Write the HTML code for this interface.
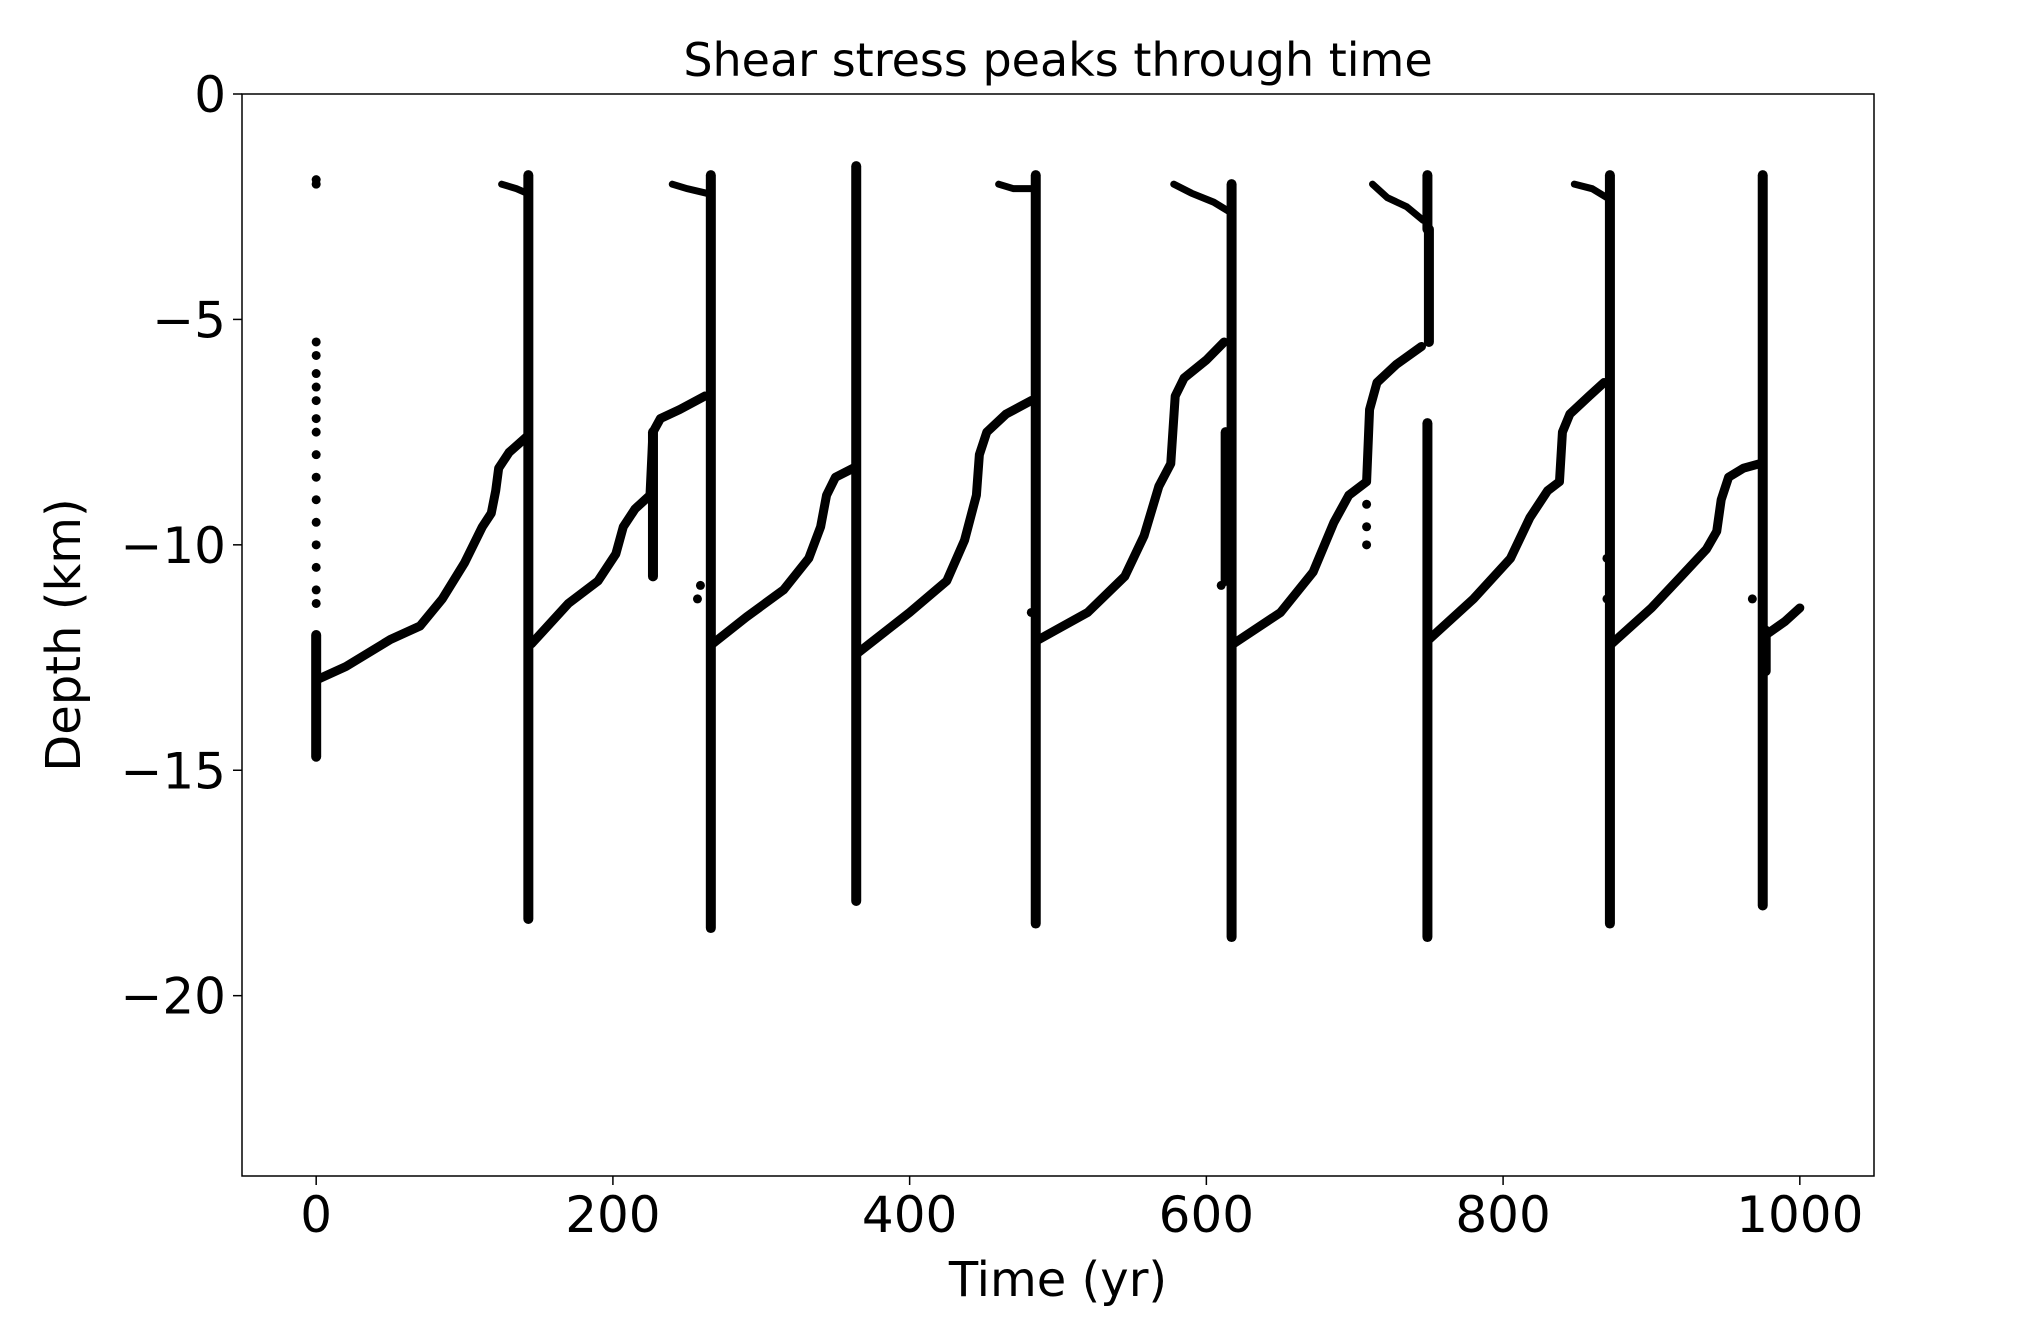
<!DOCTYPE html>
<html><head><meta charset="utf-8"><style>
html,body{margin:0;padding:0;background:#fff;}
svg{display:block;font-family:"DejaVu Sans","Liberation Sans",sans-serif;}
</style></head><body>
<svg id="chart" width="2042" height="1320" viewBox="0 0 2042 1320" xmlns="http://www.w3.org/2000/svg">
<rect width="2042" height="1320" fill="#fff"/>
<text x="1058" y="76" font-size="46" text-anchor="middle">Shear stress peaks through time</text>
<g id="marks"></g>
<rect x="242" y="94" width="1632" height="1082" fill="none" stroke="#000" stroke-width="1.5"/>
<g id="axes"></g>
<text x="1058" y="1296" font-size="48" text-anchor="middle">Time (yr)</text>
<text transform="translate(80,635) rotate(-90)" font-size="48" text-anchor="middle">Depth (km)</text>
</svg>
<script>
const xTicks = [0,200,400,600,800,1000];
const yTicks = [0,-5,-10,-15,-20];
const yTickLabels = ["0","\u22125","\u221210","\u221215","\u221220"];
// ramp curves (time yr, depth km)
const ramp1 = [[0,-13],[20,-12.7],[50,-12.1],[70,-11.8],[85,-11.2],[100,-10.4],[112,-9.6],[118,-9.3],[121,-8.8],[123,-8.3],[130,-7.95],[142,-7.6]];
const ramp2 = [[145,-12.2],[170,-11.3],[190,-10.8],[202,-10.2],[207,-9.6],[215,-9.2],[225,-8.9],[227,-7.5],[232,-7.2],[245,-7.0],[262,-6.7]];
const ramp3 = [[267,-12.2],[290,-11.6],[315,-11],[332,-10.3],[340,-9.6],[344,-8.9],[350,-8.5],[362,-8.3]];
const ramp4 = [[365,-12.4],[400,-11.5],[425,-10.8],[437,-9.9],[445,-8.9],[447,-8.0],[452,-7.5],[465,-7.1],[482,-6.8]];
const ramp5 = [[487,-12.1],[520,-11.5],[545,-10.7],[558,-9.8],[568,-8.7],[576,-8.2],[579,-6.7],[585,-6.3],[600,-5.9],[612,-5.5]];
const ramp6 = [[618,-12.2],[650,-11.5],[672,-10.6],[686,-9.5],[696,-8.9],[708,-8.6],[710,-7.0],[715,-6.4],[728,-6.0],[745,-5.6]];
const ramp7 = [[750,-12.1],[780,-11.2],[805,-10.3],[818,-9.4],[830,-8.8],[838,-8.6],[840,-7.5],[845,-7.1],[858,-6.7],[868,-6.4]];
const ramp8 = [[873,-12.2],[900,-11.4],[920,-10.7],[937,-10.1],[944,-9.7],[947,-9.0],[952,-8.5],[962,-8.3],[973,-8.2]];
const ramp9 = [[977,-12.0],[990,-11.7],[1000,-11.4]];
const ramps = [ramp1,ramp2,ramp3,ramp4,ramp5,ramp6,ramp7,ramp8,ramp9];
// rupture lines: [time, top depth, bottom depth]
const ruptures = [[0,-12,-14.7],[143,-1.8,-18.3],[227,-7.5,-10.7],[266,-1.8,-18.5],[364,-1.6,-17.9],[485,-1.8,-18.4],[617,-2.0,-18.7],[613,-7.5,-10.8],[749,-1.8,-3.0],[749,-7.3,-18.7],[750,-3,-5.5],[872,-1.8,-18.4],[975,-1.8,-18.0],[977,-11.9,-12.8]];
// near-surface arrival trails
const trail1 = [[125,-2.0],[135,-2.1],[142,-2.2]];
const trail2 = [[240,-2.0],[250,-2.1],[263,-2.2]];
const trail3 = [[460,-2.0],[470,-2.1],[482,-2.1]];
const trail4 = [[578,-2.0],[590,-2.2],[605,-2.4],[615,-2.6]];
const trail5 = [[712,-2.0],[722,-2.3],[735,-2.5],[746,-2.8]];
const trail6 = [[848,-2.0],[860,-2.1],[870,-2.3]];
const trails = [trail1,trail2,trail3,trail4,trail5,trail6];
// isolated dots
const dots = [[0,-1.9],[0,-2.0],[0,-5.5],[0,-6.5],[0,-7.2],[0,-9],[0,-10.5],[0,-11.3],[143,-10.4],[143,-11.1],[257,-11.2],[259,-10.9],[482,-11.5],[485,-7.3],[485,-8.6],[485,-10.5],[485,-11.5],[610,-10.9],[613,-10.6],[708,-9.1],[708,-9.6],[708,-10],[872,-8.9],[870,-10.3],[870,-11.2],[968,-11.2]];
const dotsCol0 = [-5.8,-6.2,-6.8,-7.5,-8,-8.5,-9.5,-10,-11];

const X0=242,X1=1874,Y0=94,Y1=1176, XMIN=-50, XMAX=1050, YMIN=-24, YMAX=0;
function sx(t){return X0+(t-XMIN)/(XMAX-XMIN)*(X1-X0);}
function sy(d){return Y0+(YMAX-d)/(YMAX-YMIN)*(Y1-Y0);}
const NS="http://www.w3.org/2000/svg";
const marks=document.getElementById('marks');
const axes=document.getElementById('axes');
function mk(tag,attrs,parent){const e=document.createElementNS(NS,tag);for(const k in attrs)e.setAttribute(k,attrs[k]);parent.appendChild(e);return e;}
ramps.forEach(function(r){
  const p=mk('polyline',{points:r.map(q=>sx(q[0])+','+sy(q[1])).join(' '),fill:'none',stroke:'#000','stroke-width':9,'stroke-linejoin':'round','stroke-linecap':'round'},marks);
  
  
});
trails.forEach(function(r){
  const p=mk('polyline',{points:r.map(q=>sx(q[0])+','+sy(q[1])).join(' '),fill:'none',stroke:'#000','stroke-width':7,'stroke-linecap':'round'},marks);
  
  
});
ruptures.forEach(function(r){
  const l=mk('line',{x1:sx(r[0]),x2:sx(r[0]),y1:sy(r[1]),y2:sy(r[2]),stroke:'#000','stroke-width':10,'stroke-linecap':'round'},marks);
  
  
});
dots.forEach(function(q){
  const c=mk('circle',{cx:sx(q[0]),cy:sy(q[1]),r:4.5,fill:'#000'},marks);
  
  
});
dotsCol0.forEach(function(d){
  const c=mk('circle',{cx:sx(0),cy:sy(d),r:4.5,fill:'#000'},marks);
  
  
});
xTicks.forEach(function(t){
  const l=mk('line',{x1:sx(t),x2:sx(t),y1:Y1,y2:Y1+9,stroke:'#000','stroke-width':1.5},axes);
  
  
  const tx=mk('text',{x:sx(t),y:Y1+56,'font-size':50,'text-anchor':'middle'},axes);
  tx.textContent=String(t);
  
  
});
yTicks.forEach(function(d,i){
  const l=mk('line',{x1:X0-9,x2:X0,y1:sy(d),y2:sy(d),stroke:'#000','stroke-width':1.5},axes);
  
  
  const tx=mk('text',{x:X0-16,y:sy(d)+18,'font-size':50,'text-anchor':'end'},axes);
  tx.textContent=yTickLabels[i];
  
  
});
</script>
</body></html>
